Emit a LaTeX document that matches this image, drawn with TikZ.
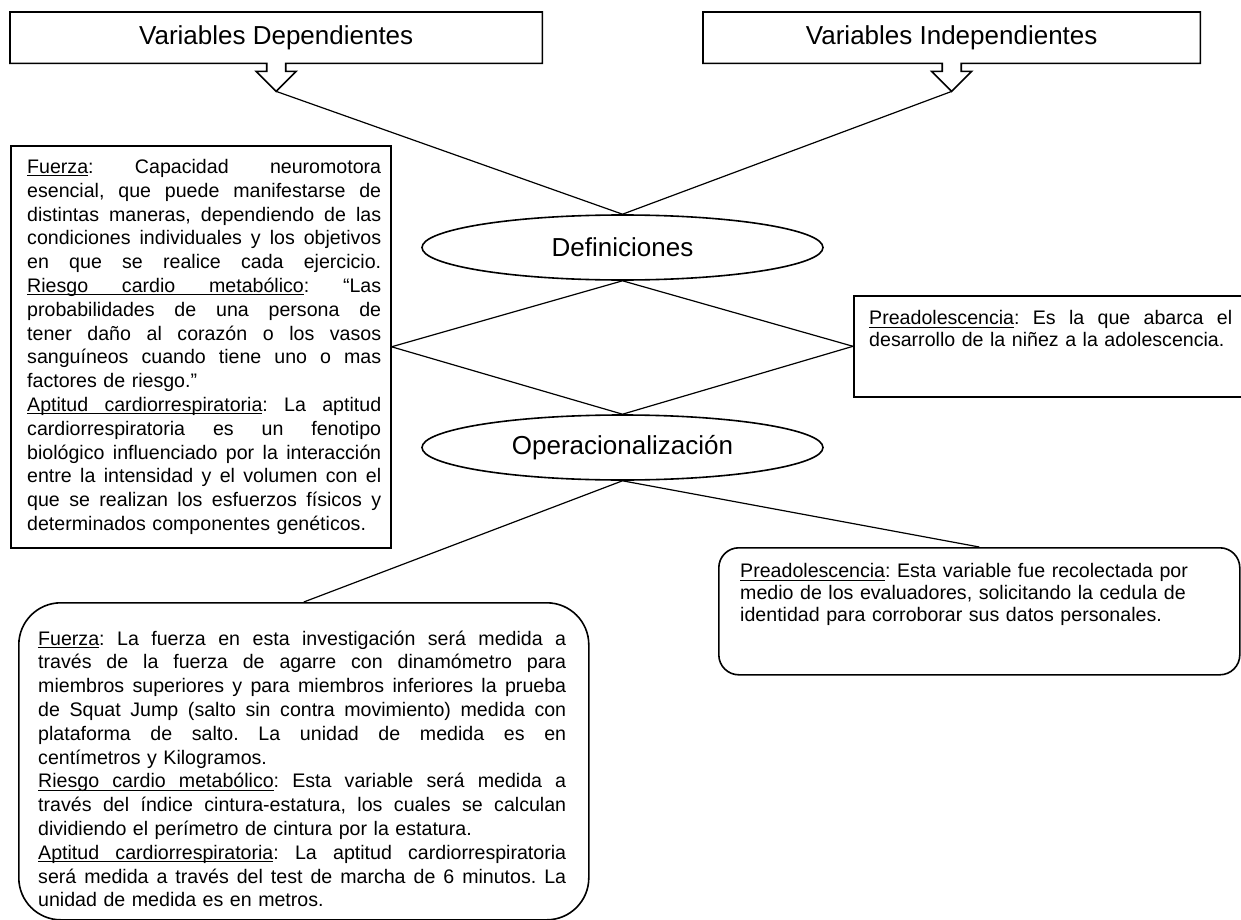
\documentclass[tikz,border=0pt]{standalone}
\usepackage{fontspec}
\setmainfont{Liberation Sans}
\usetikzlibrary{shapes.geometric}

% paragraph setup used at the start of every text block
\newcommand\blockstart{\parindent=0pt\relax\frenchspacing}
% a line stretched to the full text width (justified): all word spaces grow equally
\newcommand\fullline[1]{\leavevmode\hbox to\hsize{\spaceskip=\fontdimen2\font plus 1fil\relax\xspaceskip=\spaceskip #1}}
% underlined word, and an underlined word space that grows with the line
\newcommand\ulw[1]{\setbox0\hbox{#1}\rlap{\rule[-2.8pt]{\wd0}{1.1pt}}\box0}
\newcommand\uls{\leaders\hrule height -1.7pt depth 2.8pt\hskip\fontdimen2\font plus 1fil\relax}
\newcommand\lblfuerza{\ulw{Fuerza}}
\newcommand\lblriesgo{\ulw{Riesgo}\uls\ulw{cardio}\uls\ulw{metabólico}}
\newcommand\lblaptitud{\ulw{Aptitud}\uls\ulw{cardiorrespiratoria}}
\newcommand\lblpre{\ulw{Preadolescencia}}

\tikzset{
  frame/.style={draw=black, line width=1.6pt},
  link/.style={draw=black, line width=1.2pt},
  heading/.style={font=\fontsize{26}{30}\selectfont, inner sep=0pt},
  oval/.style={ellipse, frame, heading, minimum width=401pt, minimum height=65pt},
  panel/.style={frame, anchor=north west, inner sep=0pt},
  bodytext/.style={anchor=north west, inner sep=0pt, font=\fontsize{19.6}{23.8}\selectfont},
  sidetext/.style={anchor=north west, inner sep=0pt, font=\fontsize{19.6}{21.8}\selectfont},
}

\begin{document}
\begin{tikzpicture}[x=1pt, y=1pt, line join=miter]
\useasboundingbox (0,0) rectangle (1241,-920);

% --- headings with down-arrow callouts ---
\node[heading, minimum width=532pt, minimum height=51pt, anchor=north west] (dep) at (10,-12) {Variables Dependientes};
\coordinate (deptip) at ([yshift=-28pt]dep.south);
\draw[frame] (dep.north west) -- (dep.north east) -- (dep.south east)
  -- ([xshift=9.5pt]dep.south) -- ++(0,-8) -- ++(10.5,0) -- (deptip) -- ++(-20,20) -- ++(10.5,0)
  -- ([xshift=-9.5pt]dep.south) -- (dep.south west) -- cycle;

\node[heading, minimum width=497pt, minimum height=51pt, anchor=north west] (ind) at (703,-12) {Variables Independientes};
\coordinate (indtip) at ([yshift=-28pt]ind.south);
\draw[frame] (ind.north west) -- (ind.north east) -- (ind.south east)
  -- ([xshift=9.5pt]ind.south) -- ++(0,-8) -- ++(10.5,0) -- (indtip) -- ++(-20,20) -- ++(10.5,0)
  -- ([xshift=-9.5pt]ind.south) -- (ind.south west) -- cycle;

% --- central ovals ---
\node[oval] (def) at (622.5,-247.5) {Definiciones};
\node[oval] (op) at (622.5,-447.5) {Operacionalización};

% --- definitions, dependent variables ---
\node[panel, minimum width=380pt, minimum height=402pt] (fue) at (10,-145) {};
\node[bodytext, text width=354pt] (fuetext) at (27,-159) {\blockstart
\fullline{\lblfuerza: Capacidad neuromotora}\\
\fullline{esencial, que puede manifestarse de}\\
\fullline{distintas maneras, dependiendo de las}\\
\fullline{condiciones individuales y los objetivos}\\
\fullline{en que se realice cada ejercicio.}\\
\fullline{\lblriesgo: “Las}\\
\fullline{probabilidades de una persona de}\\
\fullline{tener daño al corazón o los vasos}\\
\fullline{sanguíneos cuando tiene uno o mas}\\
factores de riesgo.”\\
\fullline{\lblaptitud: La aptitud}\\
\fullline{cardiorrespiratoria es un fenotipo}\\
\fullline{biológico influenciado por la interacción}\\
\fullline{entre la intensidad y el volumen con el}\\
\fullline{que se realizan los esfuerzos físicos y}\\
determinados componentes genéticos.};

% --- definitions, independent variable ---
\node[panel, minimum width=400pt, minimum height=101pt] (pre) at (853,-295) {};
\node[sidetext, text width=363pt] (pretext) at (869,-310.5) {\blockstart
\fullline{\lblpre: Es la que abarca el}\\
desarrollo de la niñez a la adolescencia.};

% --- operationalisation, independent variable ---
\node[panel, rounded corners=20pt, minimum width=521pt, minimum height=127pt] (preop) at (718,-547) {};
\node[sidetext, text width=470pt] (preoptext) at (740,-563.5) {\blockstart
\lblpre: Esta variable fue recolectada por\\
medio de los evaluadores, solicitando la cedula de\\
identidad para corroborar sus datos personales.};

% --- operationalisation, dependent variables ---
\node[panel, rounded corners=42pt, minimum width=570pt, minimum height=317pt] (fop) at (18,-602) {};
\node[bodytext, text width=528pt] (foptext) at (38,-630.5) {\blockstart
\fullline{\lblfuerza: La fuerza en esta investigación será medida a}\\
\fullline{través de la fuerza de agarre con dinamómetro para}\\
\fullline{miembros superiores y para miembros inferiores la prueba}\\
\fullline{de Squat Jump (salto sin contra movimiento) medida con}\\
\fullline{plataforma de salto. La unidad de medida es en}\\
centímetros y Kilogramos.\\
\fullline{\lblriesgo: Esta variable será medida a}\\
\fullline{través del índice cintura-estatura, los cuales se calculan}\\
dividiendo el perímetro de cintura por la estatura.\\
\fullline{\lblaptitud: La aptitud cardiorrespiratoria}\\
\fullline{será medida a través del test de marcha de 6 minutos. La}\\
unidad de medida es en metros.};

% --- connectors ---
\draw[link] (deptip) -- (def.north);
\draw[link] (indtip) -- (def.north);
\draw[link] (def.south) -- (fue.east);
\draw[link] (def.south) -- (pre.west);
\draw[link] (fue.east) -- (op.north);
\draw[link] (pre.west) -- (op.north);
\draw[link] (op.south) -- (preop.north);
\draw[link] (op.south) -- (fop.north);
\end{tikzpicture}
\end{document}
